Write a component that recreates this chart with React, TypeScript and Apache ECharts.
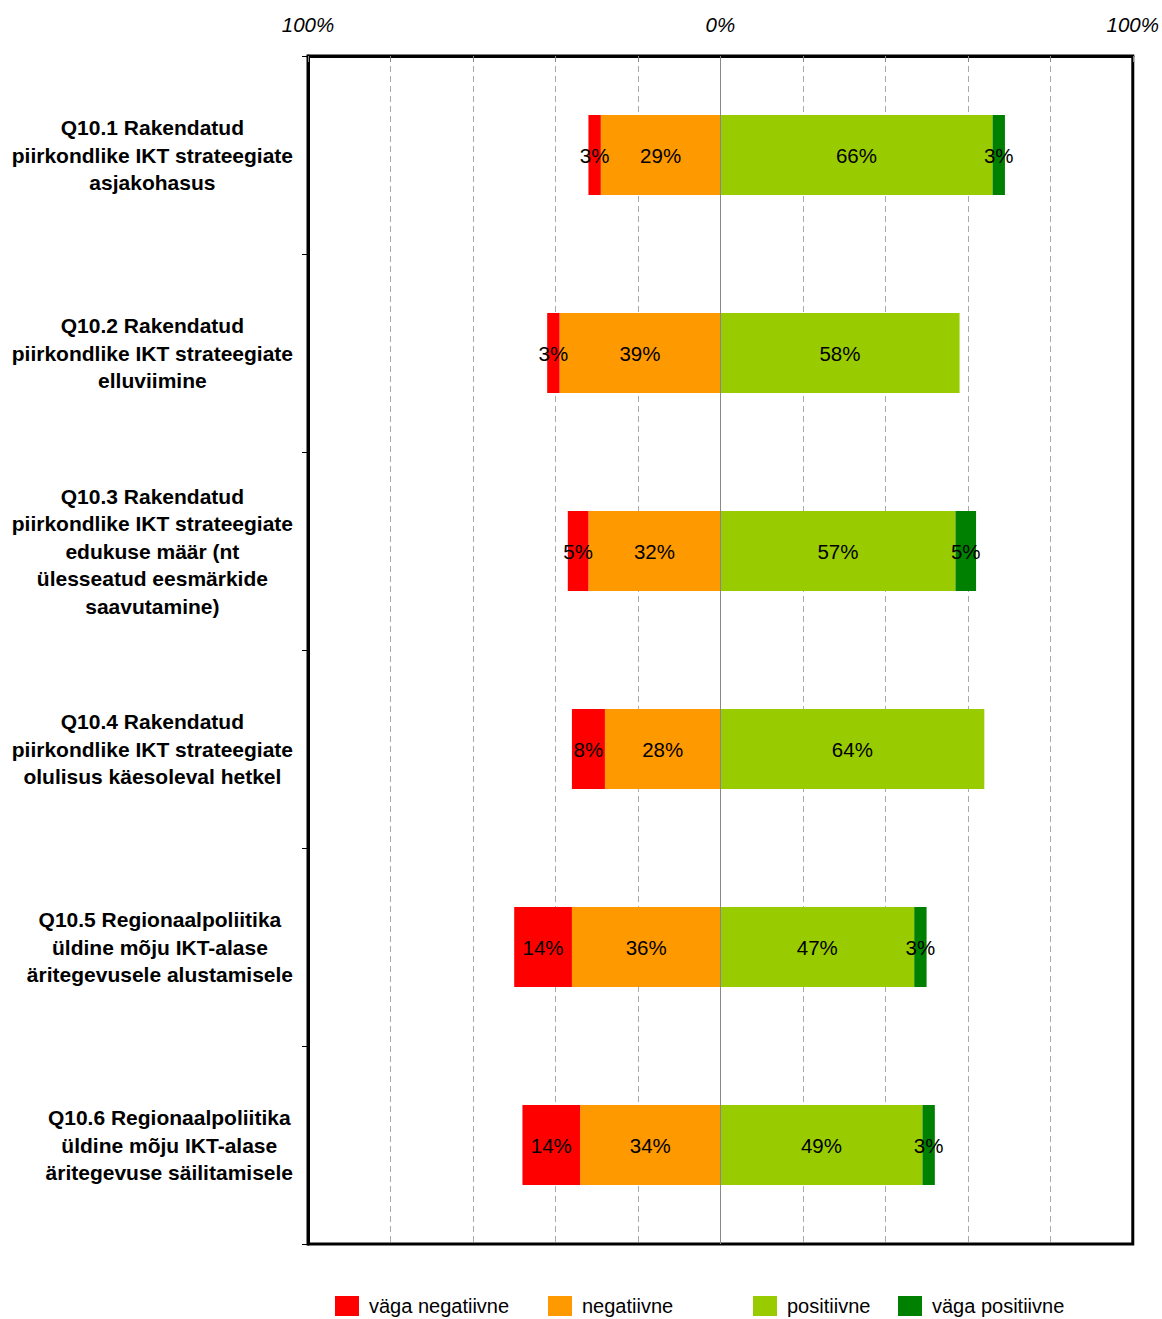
import React, { useEffect, useRef } from "react";
import * as echarts from "echarts";

const categories = [
  "Q10.1 Rakendatud\npiirkondlike IKT strateegiate\nasjakohasus",
  "Q10.2 Rakendatud\npiirkondlike IKT strateegiate\nelluviimine",
  "Q10.3 Rakendatud\npiirkondlike IKT strateegiate\nedukuse määr (nt\nülesseatud eesmärkide\nsaavutamine)",
  "Q10.4 Rakendatud\npiirkondlike IKT strateegiate\nolulisus käesoleval hetkel",
  "Q10.5 Regionaalpoliitika\nüldine mõju IKT-alase\näritegevusele alustamisele",
  "Q10.6 Regionaalpoliitika\nüldine mõju IKT-alase\näritegevuse säilitamisele",
];

const seriesNames = ["väga negatiivne", "negatiivne", "positiivne", "väga positiivne"];
const vagaNegatiivne = [3, 3, 5, 8, 14, 14];
const negatiivne = [29, 39, 32, 28, 36, 34];
const positiivne = [66, 58, 57, 64, 47, 49];
const vagaPositiivne = [3, 0, 5, 0, 3, 3];
const colors = ["#FF0000", "#FF9900", "#99CC00", "#008000"];

const xMin = -100;
const xMax = 100;
const xInterval = 20;
const labelledTicks: Record<string, string> = { "-100": "100%", "0": "0%", "100": "100%" };

const FONT = "'Liberation Sans', Arial, Helvetica, sans-serif";

export default function App() {
  const ref = useRef<HTMLDivElement>(null);

  useEffect(() => {
    if (!ref.current) return;
    const chart = echarts.init(ref.current, undefined, { renderer: "svg" });

    const barLabel = {
      show: true,
      position: "inside",
      color: "#000",
      fontSize: 20.5,
      fontFamily: FONT,
      formatter: (p: any) => (p.value === 0 ? "" : Math.abs(p.value) + "%"),
    };

    const mk = (name: string, data: number[], color: string, sign: number, extra: any = {}) => ({
      name,
      type: "bar",
      stack: "total",
      barWidth: 80,
      data: data.map((v) => v * sign),
      itemStyle: { color },
      label: barLabel,
      emphasis: { disabled: true },
      ...extra,
    });

    const legendLefts = [335, 548, 753, 898];
    const legends = seriesNames.map((n, i) => ({
      data: [n],
      left: legendLefts[i],
      top: 1296,
      padding: 0,
      itemWidth: 24,
      itemHeight: 20,
      icon: "rect",
      selectedMode: false,
      textStyle: { fontSize: 20, fontFamily: FONT, color: "#000", padding: [0, 0, 0, 5] },
    }));

    chart.setOption({
      animation: false,
      backgroundColor: "#fff",
      legend: legends,
      grid: {
        left: 308,
        right: 28,
        top: 56,
        bottom: 75,
        show: true,
        borderColor: "#000",
        borderWidth: 3,
        backgroundColor: "transparent",
        containLabel: false,
      },
      xAxis: {
        type: "value",
        position: "top",
        min: xMin,
        max: xMax,
        interval: xInterval,
        axisLine: { show: true, lineStyle: { color: "#000", width: 3 } },
        axisTick: { show: true, inside: true, length: 6, lineStyle: { color: "#888" } },
        splitLine: {
          show: true,
          showMinLine: false,
          showMaxLine: false,
          lineStyle: { color: "#aaa", type: [6, 4], width: 1 },
        },
        axisLabel: {
          show: true,
          margin: 22,
          fontSize: 20.5,
          fontStyle: "italic",
          fontFamily: FONT,
          color: "#000",
          showMinLabel: true,
          showMaxLabel: true,
          formatter: (v: number) => labelledTicks[String(v)] ?? "",
        },
      },
      yAxis: {
        type: "category",
        inverse: true,
        data: categories,
        axisLine: { show: true, onZero: false, lineStyle: { color: "#000", width: 3 } },
        axisTick: { show: true, length: 6, lineStyle: { color: "#000" } },
        axisLabel: {
          interval: 0,
          margin: 15,
          align: "right",
          formatter: (v: string) =>
            v
              .split("\n")
              .map((l) => `{c|${l}}`)
              .join("\n"),
          rich: {
            c: {
              align: "center",
              fontSize: 21,
              fontWeight: "bold",
              fontFamily: FONT,
              color: "#000",
              lineHeight: 27.5,
            },
          },
        },
      },
      series: [
        mk(seriesNames[1], negatiivne, colors[1], -1, {
          markLine: {
            silent: true,
            symbol: "none",
            label: { show: false },
            lineStyle: { color: "#888", type: "solid", width: 1 },
            data: [{ xAxis: 0 }],
          },
        }),
        mk(seriesNames[0], vagaNegatiivne, colors[0], -1),
        mk(seriesNames[2], positiivne, colors[2], 1),
        mk(seriesNames[3], vagaPositiivne, colors[3], 1),
      ],
    });

    return () => chart.dispose();
  }, []);

  return (
    <div
      ref={ref}
      style={{ position: "fixed", left: 0, top: 0, width: 1162, height: 1319, background: "#fff" }}
    />
  );
}
